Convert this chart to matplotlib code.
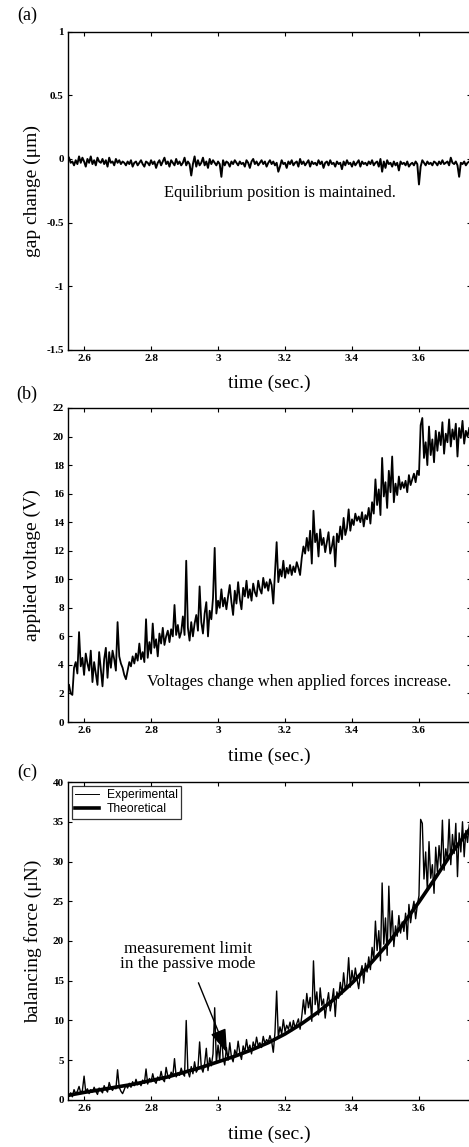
import numpy as np
import matplotlib
matplotlib.use('Agg')
import matplotlib.pyplot as plt

plt.rcParams['font.family'] = ['Liberation Serif', 'DejaVu Serif']

# sample times: 2.555 .. 3.750 s, every 5 ms (20 samples per row below)
t = np.round(np.arange(240) * 0.005 + 2.555, 3)

# (a) gap change (um)
gap = [
    0.01, -0.03, -0.02, -0.05, -0.01, -0.04, 0.02, -0.03, 0.01, -0.02, -0.06, 0.00, -0.03, 0.02, -0.04, -0.01, -0.05, 0.01, -0.02, -0.03,
    0.00, -0.04, -0.01, -0.06, 0.01, -0.03, -0.02, -0.05, 0.00, -0.03, -0.01, -0.04, -0.02, -0.03, -0.05, -0.02, -0.04, -0.01, -0.06, -0.03,
    -0.02, -0.05, -0.03, -0.01, -0.04, -0.06, -0.02, -0.03, -0.05, -0.01, -0.04, -0.02, -0.07, -0.03, -0.01, -0.05, -0.02, 0.01, -0.04, -0.02,
    -0.06, -0.01, -0.03, -0.05, 0.00, -0.04, -0.02, -0.05, -0.03, 0.01, -0.05, -0.02, -0.04, -0.13, -0.04, 0.02, -0.06, -0.01, -0.05, -0.03,
    0.01, -0.05, -0.02, -0.07, 0.00, -0.04, -0.01, -0.03, -0.05, -0.02, -0.04, -0.14, -0.01, -0.05, -0.02, -0.03, -0.06, -0.02, -0.04, -0.01,
    -0.03, -0.05, -0.02, -0.04, -0.03, -0.06, -0.01, -0.03, -0.07, -0.02, 0.00, -0.04, -0.02, -0.05, -0.03, -0.01, -0.04, -0.02, -0.06, -0.03,
    -0.01, -0.04, -0.02, -0.05, -0.03, -0.10, -0.06, -0.01, -0.04, -0.03, -0.07, -0.02, -0.04, -0.01, -0.05, -0.03, -0.02, -0.06, 0.00, -0.04,
    -0.02, -0.05, -0.03, -0.01, -0.06, -0.02, -0.04, -0.03, -0.05, -0.01, -0.04, -0.02, -0.07, -0.03, -0.02, -0.05, -0.01, -0.04, -0.03, -0.06,
    -0.02, -0.04, -0.03, -0.08, -0.02, -0.05, -0.01, -0.04, -0.03, -0.06, -0.02, -0.05, -0.03, -0.01, -0.06, -0.02, -0.04, -0.03, -0.05, -0.02,
    -0.04, -0.01, -0.05, -0.03, -0.02, -0.06, 0.00, -0.10, -0.02, -0.07, -0.01, -0.04, -0.03, -0.06, -0.02, -0.05, -0.03, -0.09, -0.02, -0.04,
    -0.03, -0.05, -0.02, -0.06, -0.04, -0.03, -0.05, -0.02, -0.04, -0.20, -0.06, -0.01, -0.03, -0.05, -0.02, -0.04, -0.03, -0.05, -0.02, -0.03,
    -0.05, -0.02, -0.04, -0.01, -0.04, -0.03, -0.02, -0.05, 0.01, -0.03, -0.04, -0.02, -0.05, -0.14, -0.03, -0.04, -0.02, -0.05, -0.03, -0.02,
]

# (b) applied voltage (V)
volt = [
    2.6, 2.0, 1.9, 3.8, 4.2, 3.4, 6.3, 3.9, 4.5, 3.3, 4.8, 4.1, 3.6, 5.0, 2.8, 4.2, 3.4, 2.6, 4.9, 3.7,
    2.5, 4.4, 5.2, 3.1, 4.9, 3.8, 5.0, 4.4, 3.6, 7.0, 4.6, 4.1, 3.8, 3.3, 3.0, 3.6, 4.2, 3.9, 4.6, 4.1,
    4.8, 4.3, 5.5, 4.4, 4.9, 4.2, 7.2, 4.5, 5.6, 4.8, 6.9, 5.2, 5.8, 4.6, 6.2, 5.5, 6.6, 5.4, 6.0, 6.4,
    5.6, 6.5, 6.0, 8.2, 6.1, 6.8, 5.9, 6.3, 7.4, 6.1, 11.3, 6.6, 5.7, 7.0, 6.0, 6.9, 7.5, 6.4, 9.5, 7.0,
    6.2, 7.6, 8.4, 6.0, 7.8, 7.2, 8.7, 12.2, 7.6, 8.5, 8.0, 9.3, 8.1, 8.7, 7.9, 8.8, 9.6, 8.4, 7.5, 9.2,
    8.3, 9.8, 8.6, 7.9, 9.4, 8.8, 9.9, 8.7, 9.3, 8.5, 9.7, 9.1, 8.8, 9.9, 9.3, 9.0, 10.1, 9.4, 9.8, 9.2,
    10.0, 9.6, 8.3, 10.4, 12.6, 9.8, 10.7, 10.2, 11.3, 10.1, 10.8, 10.4, 11.0, 10.3, 10.9, 10.5, 11.2, 10.8, 10.3, 11.5,
    12.3, 11.8, 12.9, 12.0, 13.4, 11.1, 14.8, 12.6, 13.2, 11.6, 13.5, 12.4, 12.9, 11.9, 12.6, 13.3, 11.8, 12.3, 13.0, 10.9,
    13.2, 12.6, 13.7, 12.8, 14.3, 13.1, 13.6, 14.9, 13.4, 14.2, 13.8, 14.6, 14.1, 14.4, 14.0, 14.7, 13.7, 14.5, 14.2, 15.0,
    13.9, 15.4, 14.6, 17.0, 15.2, 16.3, 14.5, 18.5, 15.8, 16.8, 15.0, 17.6, 16.1, 18.6, 15.4, 16.7, 15.9, 17.2, 16.3, 16.8,
    16.4, 16.9, 16.1, 17.3, 16.6, 17.0, 17.4, 16.8, 17.6, 17.3, 20.8, 21.3, 18.5, 19.6, 18.0, 20.7, 18.7, 19.8, 18.2, 20.4,
    19.0, 20.3, 19.4, 21.0, 18.8, 20.2, 19.6, 21.2, 19.3, 20.5, 19.8, 20.9, 18.6, 20.6, 19.9, 21.1, 19.5, 20.4, 20.0, 20.6,
]

# (c) balancing force (uN), experimental
force = [
    0.5, 0.9, 0.4, 1.3, 0.8, 1.1, 1.7, 0.9, 1.2, 3.0, 1.0, 1.4, 0.8, 1.3, 1.0, 1.6, 1.1, 0.7, 1.5, 1.2,
    0.9, 1.8, 1.3, 1.0, 2.2, 1.5, 1.2, 1.7, 1.4, 3.8, 1.6, 1.1, 0.8, 1.3, 1.9, 1.5, 2.1, 1.6, 2.3, 1.8,
    2.6, 1.9, 2.2, 1.8, 2.5, 2.1, 3.9, 2.0, 2.7, 2.3, 3.3, 2.4, 2.1, 2.9, 2.5, 3.6, 2.6, 2.3, 4.1, 3.0,
    2.7, 3.5, 3.0, 5.2, 2.9, 3.4, 3.1, 4.0, 3.3, 3.0, 10.0, 3.6, 2.9, 4.2, 3.3, 4.8, 3.5, 3.9, 7.3, 4.1,
    3.5, 4.6, 6.5, 3.7, 5.3, 4.3, 5.8, 11.6, 4.6, 6.9, 4.9, 8.5, 5.3, 4.4, 6.6, 5.0, 7.2, 5.4, 4.8, 6.3,
    5.6, 7.4, 5.9, 5.1, 6.8, 6.0, 7.6, 6.2, 6.9, 5.8, 7.3, 6.5, 7.9, 6.8, 7.2, 6.6, 8.0, 7.1, 7.6, 7.3,
    8.1, 7.4, 6.0, 8.5, 13.7, 7.9, 9.2, 8.3, 10.1, 8.6, 9.4, 8.9, 9.8, 8.7, 10.0, 9.1, 9.6, 10.2, 8.9, 10.5,
    12.6, 10.8, 13.4, 11.6, 12.9, 9.9, 17.5, 12.0, 13.6, 10.7, 14.1, 11.9, 12.7, 10.3, 12.2, 13.5, 11.2, 12.4, 14.0, 10.5,
    13.6, 12.8, 14.8, 13.3, 16.0, 13.9, 14.6, 17.9, 14.2, 16.3, 14.8, 16.6, 15.2, 14.0, 15.9, 16.9, 14.7, 17.2, 16.1, 18.0,
    16.4, 19.2, 17.6, 22.5, 18.8, 21.3, 17.5, 27.3, 19.6, 22.9, 18.2, 26.9, 20.4, 23.8, 19.3, 21.9, 20.6, 23.2, 21.0, 22.4,
    21.2, 23.5, 20.2, 24.6, 22.3, 23.9, 25.0, 22.8, 24.5, 25.7, 35.3, 34.8, 27.8, 31.2, 26.4, 32.5, 27.9, 29.6, 26.0, 31.8,
    28.7, 32.0, 29.4, 35.2, 28.9, 31.6, 30.2, 35.3, 29.6, 33.4, 31.0, 34.8, 28.1, 33.6, 31.2, 35.0, 30.6, 33.9, 32.4, 34.6,
]

# (c) theoretical curve
theo_t = [2.555, 2.60, 2.65, 2.70, 2.75, 2.80, 2.85, 2.90, 2.95, 3.00, 3.05, 3.10, 3.15,
          3.20, 3.25, 3.30, 3.35, 3.40, 3.45, 3.50, 3.55, 3.60, 3.65, 3.70, 3.75]
theo_f = [0.6, 0.95, 1.3, 1.65, 2.0, 2.45, 2.9, 3.5, 4.1, 4.8, 5.5, 6.3, 7.2,
          8.3, 9.6, 11.1, 12.8, 14.7, 16.9, 19.3, 22.0, 24.9, 28.0, 31.2, 34.0]

xticks = [2.6, 2.8, 3.0, 3.2, 3.4, 3.6]
xticklabels = ['2.6', '2.8', '3', '3.2', '3.4', '3.6']


def style_axes(ax, yticks, ylabels, ylim, xpad=9):
    ax.set_xlim(2.552, 3.755)
    ax.set_ylim(*ylim)
    ax.set_xticks(xticks)
    ax.set_xticklabels(xticklabels)
    ax.set_yticks(yticks)
    ax.set_yticklabels(ylabels)
    ax.tick_params(direction='in', top=True, right=True, length=3, width=0.8,
                   labelsize=8, pad=3)
    for lab in ax.get_xticklabels() + ax.get_yticklabels():
        lab.set_fontweight('bold')
    for s in ax.spines.values():
        s.set_linewidth(1.0)
    ax.set_xlabel('time (sec.)', fontsize=14, labelpad=xpad)


fig = plt.figure(figsize=(4.69, 11.47), dpi=100)

# (a)
ax1 = fig.add_axes([0.145, 0.6949, 0.859, 0.2775])
ax1.plot(t, gap, color='black', lw=1.4)
style_axes(ax1, [-1.5, -1, -0.5, 0, 0.5, 1], ['-1.5', '-1', '-0.5', '0', '0.5', '1'], (-1.5, 1), xpad=8)
ax1.set_ylabel('gap change (μm)', fontsize=14, labelpad=4)
ax1.text(3.185, -0.27, 'Equilibrium position is maintained.', ha='center', va='center', fontsize=11.8)

# (b)
ax2 = fig.add_axes([0.145, 0.3705, 0.859, 0.2738])
ax2.plot(t, volt, color='black', lw=1.3)
style_axes(ax2, list(range(0, 23, 2)), [str(v) for v in range(0, 23, 2)], (0, 22), xpad=9)
ax2.set_ylabel('applied voltage (V)', fontsize=14, labelpad=8)
ax2.text(3.242, 2.8, 'Voltages change when applied forces increase.', ha='center', va='center', fontsize=11.8)

# (c)
ax3 = fig.add_axes([0.145, 0.0410, 0.859, 0.2772])
ax3.plot(t, force, color='black', lw=1.0, label='Experimental')
ax3.plot(theo_t, theo_f, color='black', lw=2.6, label='Theoretical')
style_axes(ax3, list(range(0, 41, 5)), [str(v) for v in range(0, 41, 5)], (0, 40), xpad=9)
ax3.set_ylabel('balancing force (μN)', fontsize=14, labelpad=8)
leg = ax3.legend(loc='upper left', prop={'family': 'Liberation Sans', 'size': 8.7},
                 frameon=True, fancybox=False, edgecolor='black', handlelength=2.0,
                 borderpad=0.3, labelspacing=0.15, borderaxespad=0.3, handletextpad=0.6)
leg.get_frame().set_linewidth(0.9)
leg.get_lines()[0].set_linewidth(0.7)
ax3.annotate('measurement limit\nin the passive mode', xy=(3.027, 5.9), xytext=(2.91, 18.0),
             ha='center', va='center', fontsize=12.3, linespacing=0.9,
             arrowprops=dict(arrowstyle='-|>,head_length=1.2,head_width=0.4', color='black',
                             lw=1.0, shrinkA=6, shrinkB=0))

# panel letters
fig.text(0.058, 0.987, '(a)', ha='center', va='center', fontsize=13)
fig.text(0.058, 0.656, '(b)', ha='center', va='center', fontsize=13)
fig.text(0.058, 0.327, '(c)', ha='center', va='center', fontsize=13)

fig.savefig('out.png', dpi=100)
